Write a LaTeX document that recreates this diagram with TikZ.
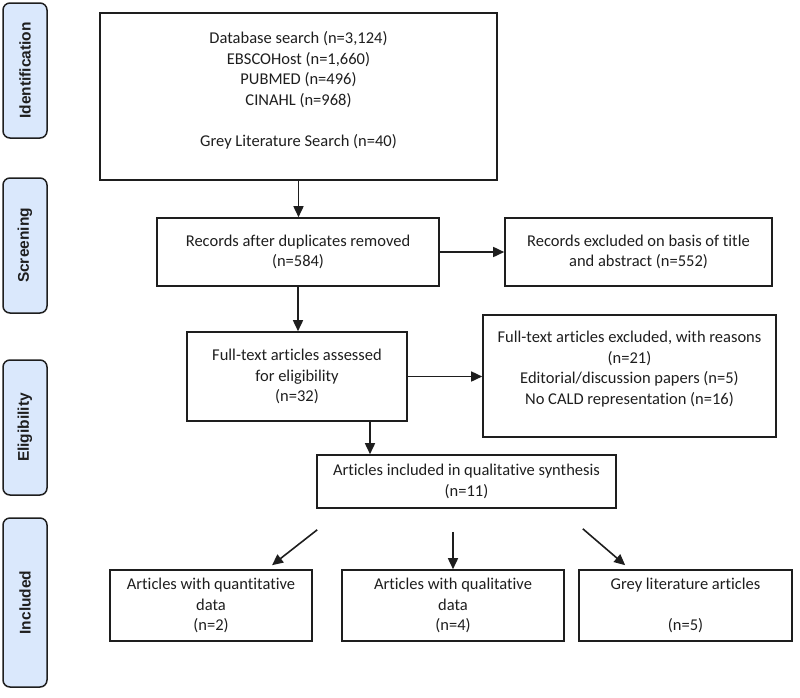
\documentclass[tikz,border=0pt]{standalone}
\usepackage{fontspec}
\setmainfont{Carlito}[Ligatures=NoCommon]
\newfontfamily\sidefont{Liberation Sans}
\usetikzlibrary{arrows.meta}
\definecolor{sidefill}{RGB}{218,232,252}
\definecolor{ink}{RGB}{30,30,30}
\begin{document}
\begin{tikzpicture}[x=1pt,y=-1pt,
  box/.style={draw=ink, line width=1.6pt, align=center, inner sep=0pt, font=\fontsize{16.5}{20.5}\selectfont, text=ink},
  side/.style={draw=ink, line width=1.5pt, fill=sidefill, rounded corners=7pt, rotate=90, font=\sidefont\bfseries\fontsize{15.5}{18}\selectfont, text=ink, minimum height=44pt, inner sep=0pt},
  arr/.style={draw=ink, line width=1.6pt, -{Triangle[length=11pt,width=10pt]}}]
\useasboundingbox (0,0) rectangle (800,697);
% phase labels
\node[side, minimum width=135pt] (s1) at (25,70.5) {Identification};
\node[side, minimum width=135pt] (s2) at (25,245.5) {Screening};
\node[side, minimum width=135pt] (s3) at (25,427.5) {Eligibility};
\node[side, minimum width=169pt] (s4) at (25,602.5) {Included};
% boxes
\node[box, minimum width=397pt, minimum height=167pt] (db) at (298.5,96.5)
  {Database search (n=3,124)\\EBSCOHost (n=1,660)\\PUBMED (n=496)\\CINAHL (n=968)\\[20.5pt]Grey Literature Search (n=40)\\[-11.5pt]\strut};
\node[box, minimum width=282pt, minimum height=68pt] (rec) at (298,252)
  {Records after duplicates removed\\(n=584)};
\node[box, minimum width=267pt, minimum height=68pt] (recx) at (638.5,252)
  {Records excluded on basis of title\\and abstract (n=552)};
\node[box, minimum width=220pt, minimum height=89pt] (ft) at (297,376.5)
  {Full-text articles assessed\\for eligibility\\(n=32)};
\node[box, minimum width=293pt, minimum height=122pt] (ftx) at (629.5,376)
  {Full-text articles excluded, with reasons\\(n=21)\\Editorial/discussion papers (n=5)\\No CALD representation (n=16)\\[-10.5pt]\strut};
\node[box, minimum width=299pt, minimum height=53pt] (inc) at (466.5,481.5)
  {Articles included in qualitative synthesis\\(n=11)};
\node[box, minimum width=202pt, minimum height=71pt] (b1) at (211,605.5)
  {Articles with quantitative\\data\\(n=2)};
\node[box, minimum width=222pt, minimum height=71pt] (b2) at (453,605.5)
  {Articles with qualitative\\data\\(n=4)};
\node[box, minimum width=213pt, minimum height=71pt] (b3) at (685.5,605.5)
  {Grey literature articles\\[20.5pt](n=5)};
% connectors
\draw[arr] (db.south) -- (db.south |- rec.north);
\draw[arr] (rec.east) -- (recx.west);
\draw[arr] (rec.south) -- (rec.south |- ft.north);
\draw[arr] (ft.east) -- (ft.east -| ftx.west);
\draw[arr] ([xshift=73pt]ft.south) -- ([xshift=73pt]ft.south |- inc.north);
\draw[arr] ([shift={(1,21)}]inc.south west) -- ([shift={(61,-4)}]b1.north);
\draw[arr] ([yshift=-23pt]b2.north |- inc.south) -- (b2.north);
\draw[arr] ([shift={(-34,20)}]inc.south east) -- ([shift={(47,-4)}]b3.north west);
\end{tikzpicture}
\end{document}
